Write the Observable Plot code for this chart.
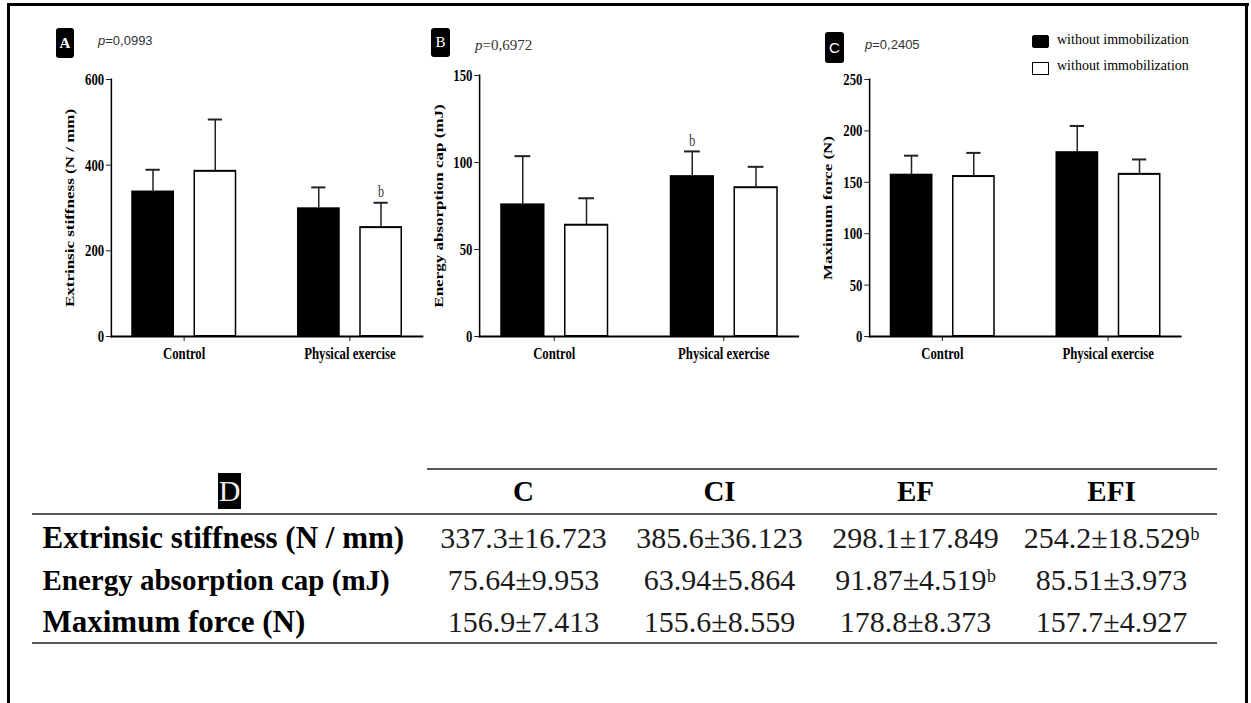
<!DOCTYPE html>
<html>
<head>
<meta charset="utf-8">
<script src="https://cdn.jsdelivr.net/npm/d3@7"></script>
<script src="https://cdn.jsdelivr.net/npm/@observablehq/plot@0.6"></script>
<style>
  body { margin: 0; background: #fff; }
  #page { position: relative; width: 1251px; height: 703px; overflow: hidden; background: #fff; font-family: "Liberation Serif", serif; color: #000; }
  .rule { position: absolute; background: #000; }
  .tag { position: absolute; background: #000; color: #fff; border-radius: 3px; display: flex; align-items: center; justify-content: center; }
  .txt { position: absolute; white-space: nowrap; }
  #panels { position: absolute; left: 0; top: 0; height: 400px; transform-origin: 0 0; }
  #panels svg { position: absolute; top: 20px; overflow: visible; }
  .swatch { position: absolute; box-sizing: border-box; border: 1.5px solid #000; }
</style>
</head>
<body>
<div id="page"></div>
<script>
// ---- data ----
const groups = ["Control", "Physical exercise"];
const seriesKeys = ["plain", "immobilized"];
const legendLabels = ["without immobilization", "without immobilization"];
const columns = ["C", "CI", "EF", "EFI"];
const rowLabels = ["Extrinsic stiffness (N / mm)", "Energy absorption cap (mJ)", "Maximum force (N)"];
const panelTags = ["A", "B", "C"];
const pValues = ["0,0993", "0,6972", "0,2405"];

// means in column order C, CI, EF, EFI
const stiffness = [337.3, 385.6, 298.1, 254.2];
const stiffnessSem = [16.723, 36.123, 17.849, 18.529];
const stiffnessWhisker = [52, 121, 50, 58];
const stiffnessSig = ["", "", "", "b"];
const stiffnessTicks = [0, 200, 400, 600];

const energy = [75.64, 63.94, 91.87, 85.51];
const energySem = [9.953, 5.864, 4.519, 3.973];
const energyWhisker = [28, 15.5, 14.5, 12];
const energySig = ["", "", "b", ""];
const energyTicks = [0, 50, 100, 150];

const force = [156.9, 155.6, 178.8, 157.7];
const forceSem = [7.413, 8.559, 8.373, 4.927];
const forceWhisker = [19, 23, 26, 14.5];
const forceSig = ["", "", "", ""];
const forceTicks = [0, 50, 100, 150, 200, 250];

// ---- page scaffolding ----
const page = document.getElementById("page");
function box(cls, css, text) {
  const el = document.createElement("div");
  el.className = cls;
  Object.assign(el.style, css);
  if (text != null) el.textContent = text;
  page.appendChild(el);
  return el;
}

// outer frame
box("rule", {left: "7px", top: "3px", width: "1242px", height: "3px"});
box("rule", {left: "7px", top: "3px", width: "3px", height: "700px"});
box("rule", {left: "1245px", top: "3px", width: "3px", height: "700px"});

// ---- bar panels (drawn condensed horizontally) ----
const SX = 0.75;
const u = v => v / SX;
const panels = document.createElement("div");
panels.id = "panels";
panels.style.width = u(1251) + "px";
panels.style.transform = `scaleX(${SX})`;
page.appendChild(panels);

function barPanel({values, whiskers, sig, ticks, yLabel, left, width, mLeft, mRight, mTop, labelOffset}) {
  const data = values.map((v, i) => ({
    group: groups[Math.floor(i / 2)],
    series: seriesKeys[i % 2],
    value: v,
    top: v + whiskers[i],
    sig: sig[i]
  }));
  const chart = Plot.plot({
    width: u(width),
    height: 350,
    marginLeft: u(mLeft),
    marginRight: u(mRight),
    marginTop: mTop,
    marginBottom: 34,
    style: {fontFamily: "'Liberation Serif', serif", color: "#000", background: "transparent", overflow: "visible"},
    fx: {domain: groups, paddingInner: 0.12, paddingOuter: 0, label: null},
    x: {domain: seriesKeys, padding: 1 / 3, axis: null},
    y: {domain: [ticks[0], ticks[ticks.length - 1]], label: null},
    color: {domain: seriesKeys, range: ["#000", "#fff"]},
    marks: [
      Plot.barY(data, {fx: "group", x: "series", y: "value", fill: "series", stroke: "#000", strokeWidth: 2}),
      Plot.ruleX(data, {fx: "group", x: "series", y1: "value", y2: "top", stroke: "#222", strokeWidth: 2}),
      Plot.tickY(data, {fx: "group", x: "series", y: "top", stroke: "#222", strokeWidth: 2, insetLeft: 18, insetRight: 18}),
      Plot.text(data.filter(d => d.sig), {fx: "group", x: "series", y: "top", text: "sig", dy: -11, fontSize: 16, fill: "#333"}),
      Plot.axisY({ticks, tickSize: u(5), tickPadding: 3, fontSize: 17, fontWeight: "bold",
        label: yLabel, labelAnchor: "center", labelArrow: "none", labelOffset: u(labelOffset)}),
      Plot.axisFx({anchor: "bottom", tickSize: 5, tickPadding: 5, fontSize: 17, fontWeight: "bold", label: null}),
      Plot.frame({anchor: "left", facet: "super", strokeWidth: 2}),
      Plot.frame({anchor: "bottom", facet: "super", strokeWidth: 2})
    ]
  });
  chart.style.left = u(left) + "px";
  panels.appendChild(chart);
}

barPanel({values: stiffness, whiskers: stiffnessWhisker, sig: stiffnessSig, ticks: stiffnessTicks,
  yLabel: rowLabels[0], left: 20, width: 420, mLeft: 90, mRight: 17, mTop: 59, labelOffset: 46});
barPanel({values: energy, whiskers: energyWhisker, sig: energySig, ticks: energyTicks,
  yLabel: rowLabels[1], left: 425, width: 390, mLeft: 54, mRight: 17, mTop: 55, labelOffset: 46});
barPanel({values: force, whiskers: forceWhisker, sig: forceSig, ticks: forceTicks,
  yLabel: rowLabels[2], left: 800, width: 410, mLeft: 68, mRight: 29, mTop: 59, labelOffset: 47});

// panel tags and p values
const tagBoxes = [
  {left: 56, top: 28, w: 18, h: 30, font: "bold 15px 'Liberation Serif'"},
  {left: 431, top: 28, w: 19, h: 29, font: "15px 'Liberation Serif'"},
  {left: 825, top: 32, w: 19, h: 31, font: "15px 'Liberation Sans'"}
];
const pBoxes = [
  {left: 98, cy: 43, font: "13px 'Liberation Sans'"},
  {left: 475, cy: 47, font: "15px 'Liberation Serif'"},
  {left: 865, cy: 47, font: "13px 'Liberation Sans'"}
];
panelTags.forEach((t, i) => {
  const b = tagBoxes[i];
  box("tag", {left: b.left + "px", top: b.top + "px", width: b.w + "px", height: b.h + "px", font: b.font}, t);
  const p = pBoxes[i];
  const el = box("txt", {left: p.left + "px", top: (p.cy - 10) + "px", height: "20px", lineHeight: "20px", font: p.font, color: "#333"});
  const it = document.createElement("i");
  it.textContent = "p";
  el.appendChild(it);
  el.appendChild(document.createTextNode("=" + pValues[i]));
});

// legend
const legendRows = [{top: 35, cy: 42}, {top: 62, cy: 68}];
legendLabels.forEach((label, i) => {
  const r = legendRows[i];
  box("swatch", {left: "1032px", top: r.top + "px", width: "17px", height: "13px", background: i === 0 ? "#000" : "#fff", borderRadius: i === 0 ? "2px" : "0"});
  box("txt", {left: "1057px", top: (r.cy - 10) + "px", height: "20px", lineHeight: "20px", font: "14px 'Liberation Serif'"}, label);
});

// ---- table D ----
box("tag", {left: "218px", top: "473px", width: "23px", height: "36px", font: "30px 'Liberation Serif'", borderRadius: "0", color: "#eee"}, "D");

const tableRows = [
  {label: rowLabels[0], means: stiffness, sems: stiffnessSem, sig: stiffnessSig},
  {label: rowLabels[1], means: energy, sems: energySem, sig: energySig},
  {label: rowLabels[2], means: force, sems: forceSem, sig: forceSig}
];
const cells = tableRows.flatMap(r => columns.map((c, j) => ({
  row: r.label,
  col: c,
  text: `${r.means[j]}±${r.sems[j]}${r.sig[j] ? "ᵇ" : ""}`
})));
const labelSizes = [31, 29, 31];

const table = Plot.plot({
  width: 1251,
  height: 230,
  marginLeft: 32,
  marginRight: 34,
  marginTop: 0,
  marginBottom: 0,
  style: {fontFamily: "'Liberation Serif', serif", color: "#000", background: "transparent", overflow: "visible"},
  x: {type: "point", domain: columns, range: [522, 1112], padding: 0, axis: null},
  y: {type: "point", domain: ["header", ...rowLabels], range: [55.5, 181.5], padding: 0, axis: null},
  marks: [
    Plot.ruleY(["header"], {dy: -27.5, insetLeft: 395, stroke: "#222", strokeWidth: 1.5}),
    Plot.ruleY(["header"], {dy: 17.5, stroke: "#222", strokeWidth: 1.5}),
    Plot.ruleY([rowLabels[rowLabels.length - 1]], {dy: 20.5, stroke: "#222", strokeWidth: 1.5}),
    Plot.text(columns, {x: d => d, y: () => "header", text: d => d, dy: -4.5, fontSize: 29, fontWeight: "bold"}),
    Plot.text(tableRows, {y: "label", text: "label", frameAnchor: "left", textAnchor: "start", dx: 10,
      fontWeight: "bold", fontSize: (d, i) => labelSizes[i]}),
    Plot.text(cells, {x: "col", y: "row", text: "text", fontSize: 30, fill: "#1a1a1a"})
  ]
});
table.style.position = "absolute";
table.style.left = "0px";
table.style.top = "440px";
page.appendChild(table);
</script>
</body>
</html>
